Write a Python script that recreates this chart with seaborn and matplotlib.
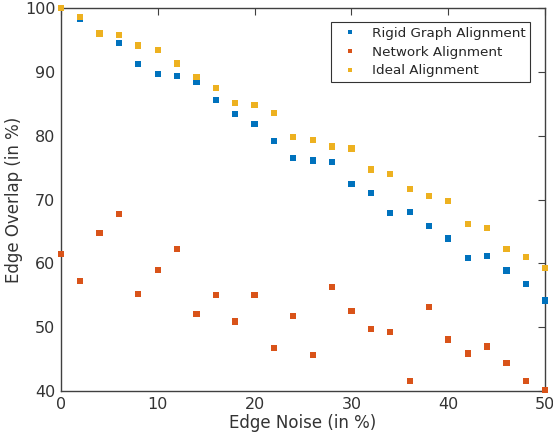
import numpy as np
import pandas as pd
import matplotlib
matplotlib.use("Agg")
import matplotlib.pyplot as plt
import seaborn as sns

noise = list(range(0, 51, 2))
rigid = [100.0, 98.2, 96.0, 94.5, 91.2, 89.7, 89.3, 88.4, 85.6, 83.4, 81.8, 79.2, 76.5,
         76.1, 75.9, 72.4, 71.0, 67.9, 68.1, 65.8, 63.9, 60.8, 61.1, 58.9, 56.8, 54.2]
network = [61.5, 57.3, 64.8, 67.7, 55.2, 59.0, 62.2, 52.1, 55.1, 50.9, 55.0, 46.8, 51.8,
           45.7, 56.3, 52.5, 49.7, 49.2, 41.6, 53.2, 48.1, 45.9, 47.0, 44.4, 41.6, 40.2]
ideal = [100.0, 98.6, 96.0, 95.7, 94.1, 93.4, 91.3, 89.2, 87.5, 85.1, 84.8, 83.5, 79.8,
         79.3, 78.3, 78.0, 74.7, 74.0, 71.6, 70.6, 69.8, 66.2, 65.6, 62.3, 61.0, 59.3]
series_names = ["Rigid Graph Alignment", "Network Alignment", "Ideal Alignment"]
colors = ["#0072BD", "#D95319", "#EDB120"]

df = pd.DataFrame({
    "noise": noise * 3,
    "overlap": rigid + network + ideal,
    "method": [series_names[0]] * len(noise) + [series_names[1]] * len(noise) + [series_names[2]] * len(noise),
})

sns.set_style("white")
plt.rcParams["font.family"] = ["DejaVu Sans"]

fig = plt.figure(figsize=(5.53, 4.38), dpi=100)
ax = fig.add_axes([0.110, 0.107, 0.876, 0.875])

sns.scatterplot(data=df, x="noise", y="overlap", hue="method", hue_order=series_names,
                palette=colors, marker="s", s=20, edgecolor="none", ax=ax, clip_on=False,
                zorder=3)

ax.set_xlim(0, 50)
ax.set_ylim(40, 100)
ax.set_xticks([0, 10, 20, 30, 40, 50])
ax.set_yticks([40, 50, 60, 70, 80, 90, 100])
axcol = "#404040"
for sp in ax.spines.values():
    sp.set_visible(True)
    sp.set_color(axcol)
    sp.set_linewidth(1.0)
ax.tick_params(direction="in", top=True, right=True, length=5, width=0.8,
               colors=axcol, labelsize=11.5, labelcolor="#333333", pad=4)
ax.set_xlabel("Edge Noise (in %)", fontsize=12, color="#333333", labelpad=2)
ax.set_ylabel("Edge Overlap (in %)", fontsize=12, color="#333333", labelpad=1)

leg = ax.legend(loc="upper right", bbox_to_anchor=(0.983, 0.98), fontsize=9.7,
                frameon=True, fancybox=False, edgecolor="black", markerscale=0.8,
                handlelength=2.2, handletextpad=0.5, borderpad=0.35, labelspacing=0.42)
leg.get_frame().set_linewidth(0.8)
for t in leg.get_texts():
    t.set_color("#262626")

fig.savefig("out.png", dpi=100)
